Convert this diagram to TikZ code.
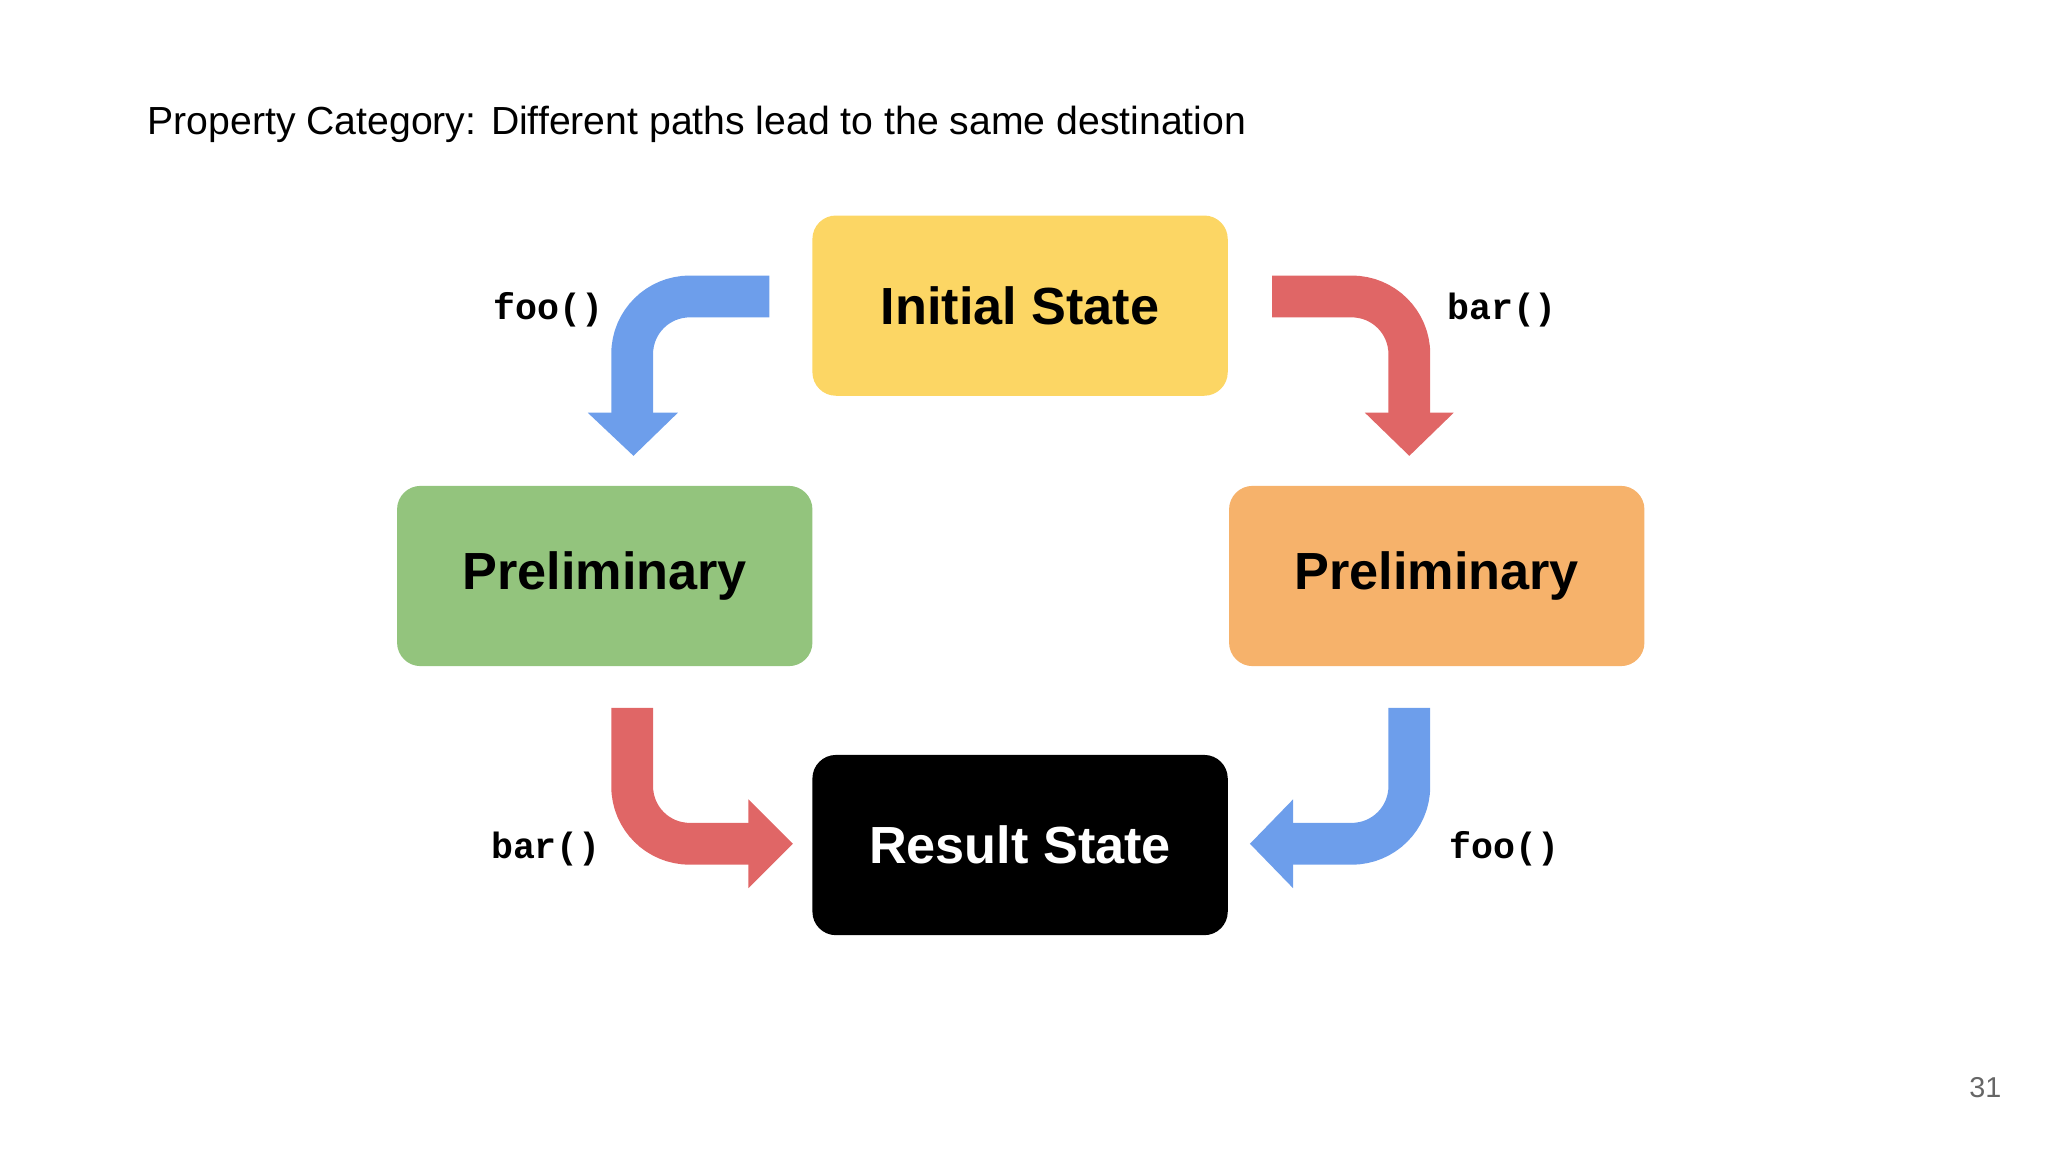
\documentclass[tikz,border=0pt]{standalone}
\usepackage{fontspec}
\setmainfont{Liberation Sans}
\newfontfamily\monof{Liberation Mono}
\begin{document}
\begin{tikzpicture}[x=0.5pt,y=-0.5pt,
  box/.style={draw=none,rounded corners=9pt,minimum width=159pt,minimum height=69pt,font=\bfseries\fontsize{20}{24}\selectfont},
  lbl/.style={font=\monof\bfseries\fontsize{14}{16}\selectfont},
  shaft/.style={line width=16pt,rounded corners=22pt}]
\definecolor{cyel}{HTML}{FCD664}
\definecolor{cgrn}{HTML}{93C47D}
\definecolor{corg}{HTML}{F6B26B}
\definecolor{cblu}{HTML}{6D9EEB}
\definecolor{cred}{HTML}{E06666}
\useasboundingbox (0,0) rectangle (1568,882);
\node[anchor=west,font=\fontsize{15}{18}\selectfont] (title) at (106,95) {Property Category: Different paths lead to the same destination};
\node[box,fill=cyel] (init) at (781,234) {Initial State};
\node[box,fill=cgrn] (pl) at (463,441) {Preliminary};
\node[box,fill=corg] (pr) at (1100,441) {Preliminary};
\node[box,fill=black,text=white] (res) at (781,647) {Result State};
% arrows
\coordinate (a1s) at (589,227); \coordinate (a1e) at (484,318);
\draw[shaft,cblu] (a1s) -| (a1e);
\fill[cblu] (450,316) -- (519,316) -- (485,349) -- cycle;
\coordinate (a2s) at (974,227); \coordinate (a2e) at (1079,318);
\draw[shaft,cred] (a2s) -| (a2e);
\fill[cred] (1045,316) -- (1113,316) -- (1079,349) -- cycle;
\coordinate (a3s) at (484,542); \coordinate (a3e) at (575,646);
\draw[shaft,cred] (a3s) |- (a3e);
\fill[cred] (573,612) -- (573,680) -- (607,646) -- cycle;
\coordinate (a4s) at (1079,542); \coordinate (a4e) at (988,646);
\draw[shaft,cblu] (a4s) |- (a4e);
\fill[cblu] (990,612) -- (990,680) -- (957,646) -- cycle;
\node[lbl] (l1) at (420,237) {foo()};
\node[lbl] (l2) at (1150,237) {bar()};
\node[lbl] (l3) at (418,650) {bar()};
\node[lbl] (l4) at (1152,650) {foo()};
\node[text=gray!80!black,font=\fontsize{11}{13}\selectfont] (pg) at (1520,833) {31};
\end{tikzpicture}
\end{document}
